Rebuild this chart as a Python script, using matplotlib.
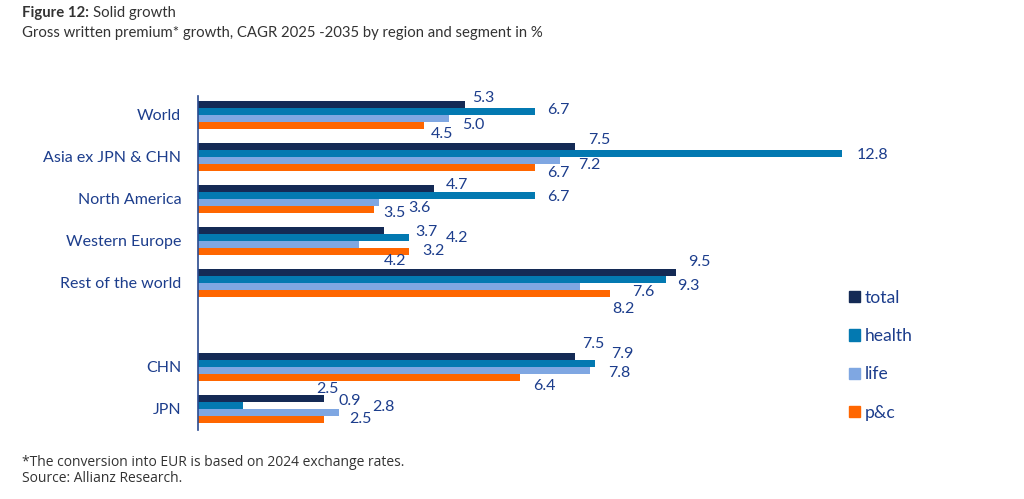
import matplotlib
matplotlib.use('Agg')
import matplotlib.pyplot as plt
from matplotlib.patches import Patch
import numpy as np

# -------------------------------------------------------------------------------------------------------------------- #
# Data
# -------------------------------------------------------------------------------------------------------------------- #

regions = ['World', 'Asia ex JPN & CHN', 'North America', 'Western Europe', 'Rest of the world', 'CHN', 'JPN']
slots = [0, 1, 2, 3, 4, 6, 7]   # empty slot between the region block and CHN/JPN

segments = ['total', 'health', 'life', 'p&c']
total = [5.3, 7.5, 4.7, 3.7, 9.5, 7.5, 2.5]
health = [6.7, 12.8, 6.7, 4.2, 9.3, 7.9, 0.9]
life = [5.0, 7.2, 3.6, 3.2, 7.6, 7.8, 2.8]
pc = [4.5, 6.7, 3.5, 4.2, 8.2, 6.4, 2.5]

# -------------------------------------------------------------------------------------------------------------------- #
# Style
# -------------------------------------------------------------------------------------------------------------------- #

colors = ['#142a55', '#0379b1', '#7fa7e2', '#ff6600']
txt_col = '#1c3d8c'

# hand placed value labels in the original: (dx, dy) in pixels from bar end / bar centre, dy down
label_nudge = [
    [(8, -6), (12, -1), (13, 7), (7, 9)],
    [(13, -6), (15, 2), (18, 5), (12, 6)],
    [(11, -3), (12, 2), (29, 6), (9, 4)],
    [(31, 2), (37, 1), (63, 7), (-25, 10)],
    [(12, -10), (11, 7), (52, 6), (2, 16)],
    [(7, -12), (16, -9), (18, 3), (13, 9)],
    [(-8, -9), (95, -4), (33, -5), (25, 0)],
]

plt.rcParams['font.family'] = ['Lato', 'DejaVu Sans']

# -------------------------------------------------------------------------------------------------------------------- #
# Plot
# -------------------------------------------------------------------------------------------------------------------- #

fig = plt.figure(figsize=(10.24, 4.99), dpi=100)
ax = fig.add_axes([198 / 1024, 1 - 430 / 499, 704 / 1024, 334 / 499])

h = 0.1667
y = np.array(slots, dtype=float)
series = [total, health, life, pc]
px2pt = 72 / 100
for i, (vals, col) in enumerate(zip(series, colors)):
    pos = y + (i - 1.5) * h
    ax.barh(pos, vals, height=h, color=col, zorder=2)
    for r, (yy, v) in enumerate(zip(pos, vals)):
        dx, dy = label_nudge[r][i]
        ax.annotate(f'{v:.1f}', xy=(v, yy), xytext=(dx * px2pt, -dy * px2pt),
                    textcoords='offset points', ha='left', va='center',
                    fontsize=11.5, color=txt_col)

ax.set_xlim(0, 14)
ax.set_ylim(7.5, -0.45)
ax.set_yticks(slots)
ax.set_yticklabels(regions, fontsize=11.5, color=txt_col)
ax.tick_params(axis='y', length=0, pad=12)
ax.set_xticks([])
for s in ['top', 'right', 'bottom']:
    ax.spines[s].set_visible(False)
ax.spines['left'].set_color('#2a4a8f')
ax.spines['left'].set_linewidth(1.2)

handles = [Patch(color=c) for c in colors]
leg = fig.legend(handles, segments, loc='upper left', bbox_to_anchor=(849 / 1024, 1 - 290 / 499),
                 frameon=False, fontsize=12.6, handlelength=0.6, handleheight=0.6,
                 handletextpad=0.3, labelspacing=1.27, borderpad=0, borderaxespad=0)
for t in leg.get_texts():
    t.set_color(txt_col)

t_fig = fig.text(22 / 1024, 1 - 13 / 499, 'Figure 12:', fontsize=10.7, fontweight='bold',
                 color='#333333', va='center')
fig.add_artist(plt.Annotation('Solid growth', xy=(1, 0), xycoords=t_fig, xytext=(3, 0),
                              textcoords='offset points', ha='left', va='bottom',
                              fontsize=10.7, color='#333333'))
fig.text(22 / 1024, 1 - 33 / 499, 'Gross written premium* growth, CAGR 2025 -2035 by region and segment in %',
         fontsize=10.7, color='#333333', va='center')
fig.text(22 / 1024, 1 - 463 / 499, '*The conversion into EUR is based on 2024 exchange rates.',
         fontsize=10, color='#333333', va='center', family='Open Sans')
fig.text(22 / 1024, 1 - 479 / 499, 'Source: Allianz Research.',
         fontsize=10, color='#333333', va='center', family='Open Sans')

fig.savefig('out.png', dpi=100, facecolor='white')
